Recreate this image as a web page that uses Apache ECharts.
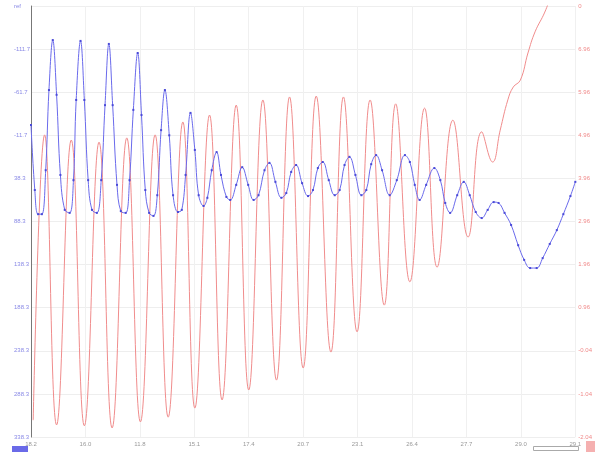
<!DOCTYPE html>
<html>
<head>
<meta charset="utf-8">
<script src="https://cdn.jsdelivr.net/npm/echarts@6/dist/echarts.min.js"></script>
<style>
  html, body { margin: 0; padding: 0; background: #fff; }
  #chart { width: 595px; height: 452px; }
</style>
</head>
<body>
<div id="chart"></div>
<script>
// tick labels, index 0 = bottom / left
var xLabels = ['18.2', '16.0', '11.8', '15.1', '17.4', '20.7', '23.1', '26.4', '27.7', '29.0', '29.1'];
var leftLabels = ['338.3', '288.3', '238.3', '188.3', '138.3', '88.3', '38.3', '-11.7', '-61.7', '-111.7', 'ref'];
var rightLabels = ['-2.04', '-1.04', '-0.04', '0.96', '1.96', '2.96', '3.96', '4.96', '5.96', '6.96', '0'];

// blue trace (left axis), [time, value] in tick units
var blueData = [
    [0.00, 7.24], [0.07, 5.73], [0.13, 5.17], [0.20, 5.17], [0.27, 6.19], [0.33, 8.05], [0.40, 9.21],
    [0.47, 7.94], [0.54, 6.08], [0.62, 5.27], [0.71, 5.20], [0.78, 5.96], [0.83, 7.82], [0.91, 9.19],
    [0.98, 7.82], [1.05, 5.96], [1.12, 5.27], [1.21, 5.20], [1.29, 5.96], [1.36, 7.70], [1.43, 9.12],
    [1.50, 7.70], [1.58, 5.85], [1.65, 5.24], [1.74, 5.20], [1.81, 5.96], [1.88, 7.59], [1.96, 8.91],
    [2.03, 7.47], [2.10, 5.73], [2.17, 5.20], [2.25, 5.13], [2.32, 5.61], [2.39, 7.12], [2.46, 8.05],
    [2.54, 7.00], [2.61, 5.61], [2.70, 5.22], [2.77, 5.27], [2.84, 6.08], [2.93, 7.52],
    [3.01, 6.66], [3.08, 5.61], [3.17, 5.36], [3.24, 5.55], [3.32, 6.19], [3.41, 6.61],
    [3.49, 6.08], [3.59, 5.57], [3.66, 5.50], [3.77, 5.85], [3.88, 6.26],
    [3.99, 5.85], [4.09, 5.50], [4.18, 5.61], [4.29, 6.19], [4.38, 6.36],
    [4.49, 5.92], [4.60, 5.55], [4.69, 5.66], [4.78, 6.15], [4.87, 6.31],
    [4.98, 5.89], [5.09, 5.59], [5.18, 5.73], [5.27, 6.24], [5.36, 6.38],
    [5.47, 5.96], [5.58, 5.61], [5.67, 5.73], [5.76, 6.31], [5.85, 6.50],
    [5.96, 6.08], [6.07, 5.61], [6.16, 5.73], [6.25, 6.33], [6.34, 6.54],
    [6.45, 6.19], [6.59, 5.61], [6.72, 5.96], [6.87, 6.54], [6.96, 6.38],
    [7.05, 5.85], [7.14, 5.50], [7.26, 5.85], [7.41, 6.24], [7.52, 5.96],
    [7.61, 5.43], [7.70, 5.20], [7.83, 5.61], [7.95, 5.92], [8.06, 5.61],
    [8.17, 5.22], [8.28, 5.08], [8.39, 5.27], [8.50, 5.45], [8.59, 5.43],
    [8.70, 5.20], [8.82, 4.92], [8.95, 4.45], [9.06, 4.11], [9.17, 3.92],
    [9.29, 3.92], [9.40, 4.15], [9.53, 4.48], [9.66, 4.80], [9.78, 5.17],
    [9.91, 5.59], [10.00, 5.92]
];

// red trace (right axis)
var redData = [
    [0.04, 0.39],
    [0.25, 7.01], [0.47, 0.28], [0.74, 6.89], [0.98, 0.26], [1.25, 6.84], [1.49, 0.21],
    [1.76, 6.94], [2.01, 0.35], [2.28, 7.01], [2.52, 0.46], [2.79, 7.31], [3.01, 0.67],
    [3.28, 7.47], [3.51, 0.86], [3.77, 7.70], [4.00, 1.09], [4.26, 7.82], [4.51, 1.32],
    [4.75, 7.89], [5.00, 1.60], [5.24, 7.91], [5.51, 1.97], [5.74, 7.89], [5.99, 2.44],
    [6.23, 7.82], [6.49, 3.06], [6.70, 7.73], [6.96, 3.60], [7.23, 7.63], [7.46, 3.94],
    [7.75, 7.35], [8.03, 4.64], [8.28, 7.08], [8.48, 6.38],
    [8.62, 7.12], [8.76, 7.82], [8.86, 8.12], [8.99, 8.28], [9.13, 8.91], [9.26, 9.40],
    [9.44, 9.86], [9.55, 10.25], [9.76, 11.07]
];

var chart = echarts.init(document.getElementById('chart'));

chart.setOption({
    animation: false,
    backgroundColor: '#fff',
    grid: { left: 31, right: 12, top: 6, bottom: 15 },
    xAxis: {
        type: 'value',
        min: 0, max: 10, interval: 1,
        axisLine: { show: false },
        axisTick: { show: false },
        axisLabel: {
            color: '#999', fontSize: 6, margin: 4,
            formatter: function (v) { return xLabels[v]; }
        },
        splitLine: { show: true, lineStyle: { color: '#f0f0f0' } }
    },
    yAxis: [
        {
            type: 'value',
            min: 0, max: 10, interval: 1,
            position: 'left',
            offset: 21,
            axisLine: { show: true, lineStyle: { color: '#777', width: 1 } },
            axisTick: { show: false },
            axisLabel: {
                inside: true, color: '#8a8ae6', fontSize: 6, margin: 4,
                formatter: function (v) { return leftLabels[v]; }
            },
            splitLine: { show: true, lineStyle: { color: '#eeeeee' } }
        },
        {
            type: 'value',
            min: 0, max: 10, interval: 1,
            position: 'right',
            axisLine: { show: false },
            axisTick: { show: false },
            axisLabel: {
                color: '#f08a8a', fontSize: 6, margin: 3,
                formatter: function (v) { return rightLabels[v]; }
            },
            splitLine: { show: false }
        }
    ],
    series: [
        {
            name: 'red',
            type: 'line',
            yAxisIndex: 1,
            data: redData,
            smooth: 0.45,
            showSymbol: false,
            lineStyle: { color: '#f08c8c', width: 1 },
            z: 2
        },
        {
            name: 'blue',
            type: 'line',
            yAxisIndex: 0,
            data: blueData,
            smooth: 0.4,
            symbol: 'rect',
            symbolSize: 2,
            showAllSymbol: true,
            itemStyle: { color: '#4a4ad8' },
            lineStyle: { color: '#6a6aec', width: 1 },
            z: 3
        }
    ],
    graphic: [
        { type: 'rect', left: 12, top: 446, shape: { width: 16, height: 6 }, style: { fill: '#6a6ae8' } },
        { type: 'rect', left: 533, top: 446, shape: { width: 45, height: 4 }, style: { fill: '#fff', stroke: '#aaa', lineWidth: 1 } },
        { type: 'rect', left: 586, top: 441, shape: { width: 9, height: 11 }, style: { fill: '#f5b0b0' } }
    ]
});
</script>
</body>
</html>
